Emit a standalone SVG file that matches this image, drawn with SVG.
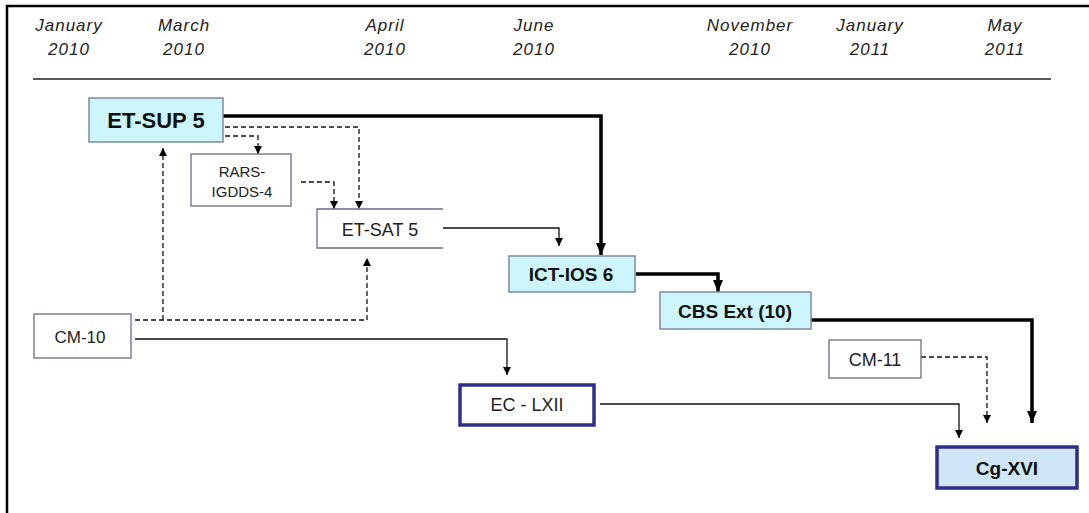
<svg xmlns="http://www.w3.org/2000/svg" width="1089" height="513" viewBox="0 0 1089 513">
<style>
.hd{font-family:"Liberation Sans",Arial,sans-serif;font-style:italic;font-size:17px;letter-spacing:1px;fill:#222;text-anchor:middle}
.bx{font-family:"Liberation Sans",Arial,sans-serif;fill:#222;text-anchor:middle}
.b{font-weight:bold;fill:#111}
.cy{fill:#ccf6fb;stroke:#7f8aa3;stroke-width:1.5}
.wh{fill:#fff;stroke:#6a6e86;stroke-width:1.3}
.nv{stroke:#2e2e8c;stroke-width:3.5}
.th{fill:none;stroke:#000;stroke-width:3.5}
.tn{fill:none;stroke:#111;stroke-width:1.3}
.ds{fill:none;stroke:#111;stroke-width:1.3;stroke-dasharray:5,3}
</style>
<defs>
<marker id="a" viewBox="0 0 8 8" refX="8" refY="4" markerWidth="8" markerHeight="8" markerUnits="userSpaceOnUse" orient="auto"><path d="M0,0 L8,4 L0,8 z" fill="#000"/></marker>
<marker id="ab" viewBox="0 0 12 10" refX="12" refY="5" markerWidth="12" markerHeight="10" markerUnits="userSpaceOnUse" orient="auto"><path d="M0,0 L12,5 L0,10 z" fill="#000"/></marker>
</defs>
<rect width="1089" height="513" fill="#fff"/>
<g id="frame" stroke="#000" stroke-width="2.5">
<line x1="6" y1="6" x2="1089" y2="6"/>
<line x1="7" y1="5" x2="7" y2="513"/>
</g>
<g id="timeline">
<text class="hd" x="69" y="31">January</text><text class="hd" x="69" y="55">2010</text>
<text class="hd" x="184" y="31">March</text><text class="hd" x="184" y="55">2010</text>
<text class="hd" x="385" y="31">April</text><text class="hd" x="385" y="55">2010</text>
<text class="hd" x="534" y="31">June</text><text class="hd" x="534" y="55">2010</text>
<text class="hd" x="750" y="31">November</text><text class="hd" x="750" y="55">2010</text>
<text class="hd" x="870" y="31">January</text><text class="hd" x="870" y="55">2011</text>
<text class="hd" x="1005" y="31">May</text><text class="hd" x="1005" y="55">2011</text>
<line x1="33" y1="79" x2="1051" y2="79" stroke="#222" stroke-width="1.5"/>
</g>
<g id="connectors">
<path class="th" d="M223,116 H601 V255" marker-end="url(#ab)"/>
<path class="ds" d="M225,127 H359 V209" marker-end="url(#a)"/>
<path class="ds" d="M225,136 H258 V154" marker-end="url(#a)"/>
<path class="ds" d="M301,182 H334 V209" marker-end="url(#a)"/>
<path class="tn" d="M443,228 H559 V246" marker-end="url(#a)"/>
<path class="th" d="M636,274 H718 V292" marker-end="url(#ab)"/>
<path class="th" d="M811,320 H1032 V423" marker-end="url(#ab)"/>
<path class="ds" d="M135,320 H367 V258" marker-end="url(#a)"/>
<path class="ds" d="M163,320 V148" marker-end="url(#a)"/>
<path class="tn" d="M135,339 H507 V375" marker-end="url(#a)"/>
<path class="tn" d="M600,404 H959 V438" marker-end="url(#a)"/>
<path class="ds" d="M921,357 H987 V423" marker-end="url(#a)"/>
</g>
<g id="et-sup-5"><rect class="cy" x="89" y="98" width="134" height="44"/><text class="bx b" x="156" y="128" font-size="22">ET-SUP 5</text></g>
<g id="rars-igdds-4"><rect class="wh" x="191" y="154" width="100" height="52"/><text class="bx" x="242" y="177" font-size="15">RARS-</text><text class="bx" x="242" y="197" font-size="15">IGDDS-4</text></g>
<g id="et-sat-5"><path d="M443,209 H317 V248 H443" fill="#fff" stroke="#6a6e86" stroke-width="1.3"/><text class="bx" x="380" y="236" font-size="18">ET-SAT 5</text></g>
<g id="ict-ios-6"><rect class="cy" x="509" y="256" width="126" height="36"/><text class="bx b" x="571" y="281" font-size="19">ICT-IOS 6</text></g>
<g id="cbs-ext-10"><rect class="cy" x="660" y="292" width="151" height="37"/><text class="bx b" x="735" y="318" font-size="19">CBS Ext (10)</text></g>
<g id="cm-10"><rect class="wh" x="34" y="314" width="97" height="44"/><text class="bx" x="80" y="343" font-size="17" fill="#444">CM-10</text></g>
<g id="cm-11"><rect class="wh" x="829" y="340" width="92" height="38"/><text class="bx" x="875" y="366" font-size="18">CM-11</text></g>
<g id="ec-lxii"><rect class="nv" x="460" y="385" width="134" height="40" fill="#fff"/><text class="bx" x="527" y="411" font-size="18">EC - LXII</text></g>
<g id="cg-xvi"><rect class="nv" x="937" y="447" width="140" height="41" fill="#cfe6f8"/><text class="bx b" x="1007" y="475" font-size="19">Cg-XVI</text></g>
</svg>
